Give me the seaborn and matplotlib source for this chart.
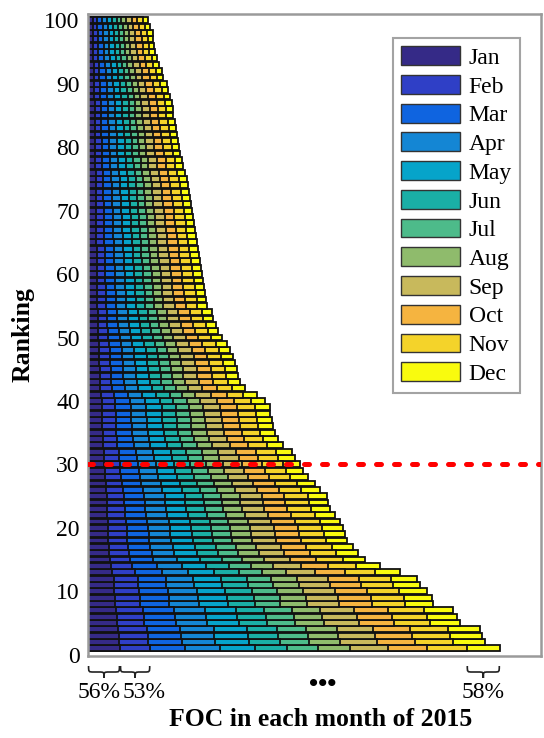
import numpy as np
import pandas as pd
import matplotlib
matplotlib.use("Agg")
import matplotlib.pyplot as plt
import seaborn as sns
from matplotlib.patches import Patch, PathPatch
from matplotlib.path import Path
import matplotlib.transforms as mtransforms

# ---------------- data ----------------
months = ["Jan", "Feb", "Mar", "Apr", "May", "Jun",
          "Jul", "Aug", "Sep", "Oct", "Nov", "Dec"]
month_colors = ["#352a87", "#2f3fc6", "#0f64e0", "#1486d4", "#06a4ca", "#1aafa6",
                "#4dbb8a", "#8fbb6c", "#c8b95c", "#f5b440", "#f4d32a", "#f9fb0e"]
# monthly FOC (%) of the top-ranked item (bottom bar)
month_foc_top = [56, 53, 61, 61, 61, 56, 54, 56, 67, 68, 70, 58]
ranks = list(range(1, 101))
total_foc = [721, 695, 690, 686, 651, 646, 639, 604, 602, 593,
             581, 576, 546, 511, 485, 472, 464, 453, 450, 446,
             441, 432, 424, 420, 418, 406, 397, 385, 376, 371,
             362, 357, 341, 333, 327, 324, 322, 319, 318, 310,
             296, 275, 266, 263, 261, 257, 254, 249, 243, 235,
             228, 224, 219, 217, 208, 207, 205, 203, 201, 200,
             198, 196, 194, 193, 191, 189, 187, 186, 184, 182,
             180, 179, 177, 175, 173, 170, 166, 165, 161, 159,
             158, 156, 154, 152, 149, 148, 147, 144, 140, 138,
             131, 130, 124, 121, 117, 116, 114, 113, 109, 105]
threshold_rank = 30
brace_labels = ["56%", "53%", "58%"]

# ---------------- build table ----------------
share = np.array(month_foc_top, dtype=float) / np.sum(month_foc_top)
vals = np.outer(np.array(total_foc, dtype=float), share)
vals[0, :] = month_foc_top
cum = np.cumsum(vals, axis=1)
df = pd.DataFrame(cum, columns=months)
df["rank"] = ranks

sns.set_theme(style="white")
plt.rcParams["font.family"] = ["Liberation Serif", "DejaVu Serif"]
plt.rcParams["text.color"] = "black"
plt.rcParams["ytick.color"] = "black"

W, H = 544, 738
fig = plt.figure(figsize=(W / 100, H / 100), dpi=100)
ax = fig.add_axes([88 / W, 1 - 656 / H, (541 - 88) / W, (656 - 14) / H])

for m in reversed(range(12)):
    sns.barplot(data=df, x=months[m], y="rank", orient="h", native_scale=True,
                color=month_colors[m], saturation=1, edgecolor="#111111",
                linewidth=1.3, width=0.92, errorbar=None, ax=ax)

ax.axhline(threshold_rank, color="#ff0000", lw=3.6, ls=(0, (1.0, 2.6)),
           dash_capstyle="round", zorder=5)

ax.set_xlim(0, 793)
ax.set_ylim(-0.2, 101)
ax.set_yticks(range(0, 101, 10))
ax.set_yticklabels([str(v) for v in range(0, 101, 10)], fontsize=17)
ax.set_xticks([])
ax.tick_params(axis="y", length=0, pad=6, labelcolor="black")
ax.set_xlabel("")
ax.set_ylabel("")
for s in ax.spines.values():
    s.set_color("#9a9a9a")
    s.set_linewidth(1.8)
    s.set_visible(True)

handles = [Patch(facecolor=c, edgecolor="#333333", lw=1.0) for c in month_colors]
leg = ax.legend(handles, months, loc="upper left",
                bbox_to_anchor=(393 / W, 1 - 38 / H), bbox_transform=fig.transFigure,
                borderaxespad=0, fontsize=17, handlelength=2.5, handleheight=0.85,
                handletextpad=0.35, labelspacing=0.26, borderpad=0.35,
                fancybox=False, frameon=True)
leg.get_frame().set_edgecolor("#8c8c8c")
leg.get_frame().set_linewidth(1.5)
for t in leg.get_texts():
    t.set_color("black")

# braces under the axis
trans = mtransforms.blended_transform_factory(ax.transData, fig.transFigure)
bottom_cum = np.concatenate([[0], np.cumsum(month_foc_top)])
spans = [(bottom_cum[0], bottom_cum[1]), (bottom_cum[1], bottom_cum[2]),
         (bottom_cum[11], bottom_cum[12])]
yt, yl, yb = 1 - 666 / H, 1 - 672 / H, 1 - 678 / H
r = 9
for (x0, x1) in spans:
    x0 = x0 + 1
    x1 = x1 - 1
    xm = (x0 + x1) / 2
    verts = [(x0, yt), (x0, yl), (x0, yl), (x0 + r, yl),
             (xm - r, yl), (xm, yl), (xm, yl), (xm, yb),
             (xm, yl), (xm, yl), (xm + r, yl),
             (x1 - r, yl), (x1, yl), (x1, yl), (x1, yt)]
    codes = [Path.MOVETO, Path.CURVE4, Path.CURVE4, Path.CURVE4,
             Path.LINETO, Path.CURVE4, Path.CURVE4, Path.CURVE4,
             Path.CURVE4, Path.CURVE4, Path.CURVE4,
             Path.LINETO, Path.CURVE4, Path.CURVE4, Path.CURVE4]
    p = PathPatch(Path(verts, codes), transform=trans, fill=False,
                  edgecolor="#222222", lw=1.2, clip_on=False)
    fig.add_artist(p)

ylab = 1 - 692 / H
fig.text(bottom_cum[1] / 793 * (453 / W) + 88 / W + 1 / W, ylab, brace_labels[0],
         ha="right", va="center", fontsize=17)
fig.text(bottom_cum[1] / 793 * (453 / W) + 88 / W + 3 / W, ylab, brace_labels[1],
         ha="left", va="center", fontsize=17)
fig.text((bottom_cum[11] + bottom_cum[12]) / 2 / 793 * (453 / W) + 88 / W, ylab,
         brace_labels[2], ha="center", va="center", fontsize=17)
fig.text(323 / W, 1 - 685 / H, "•••", ha="center", va="center", fontsize=19,
         fontweight="bold")

fig.text(321 / W, 1 - 720 / H, "FOC in each month of 2015", ha="center",
         va="center", fontsize=18.5, fontweight="bold")
fig.text(23 / W, 1 - 335 / H, "Ranking", ha="center", va="center",
         rotation=90, fontsize=18.5, fontweight="bold")

fig.savefig("out.png", dpi=100)
